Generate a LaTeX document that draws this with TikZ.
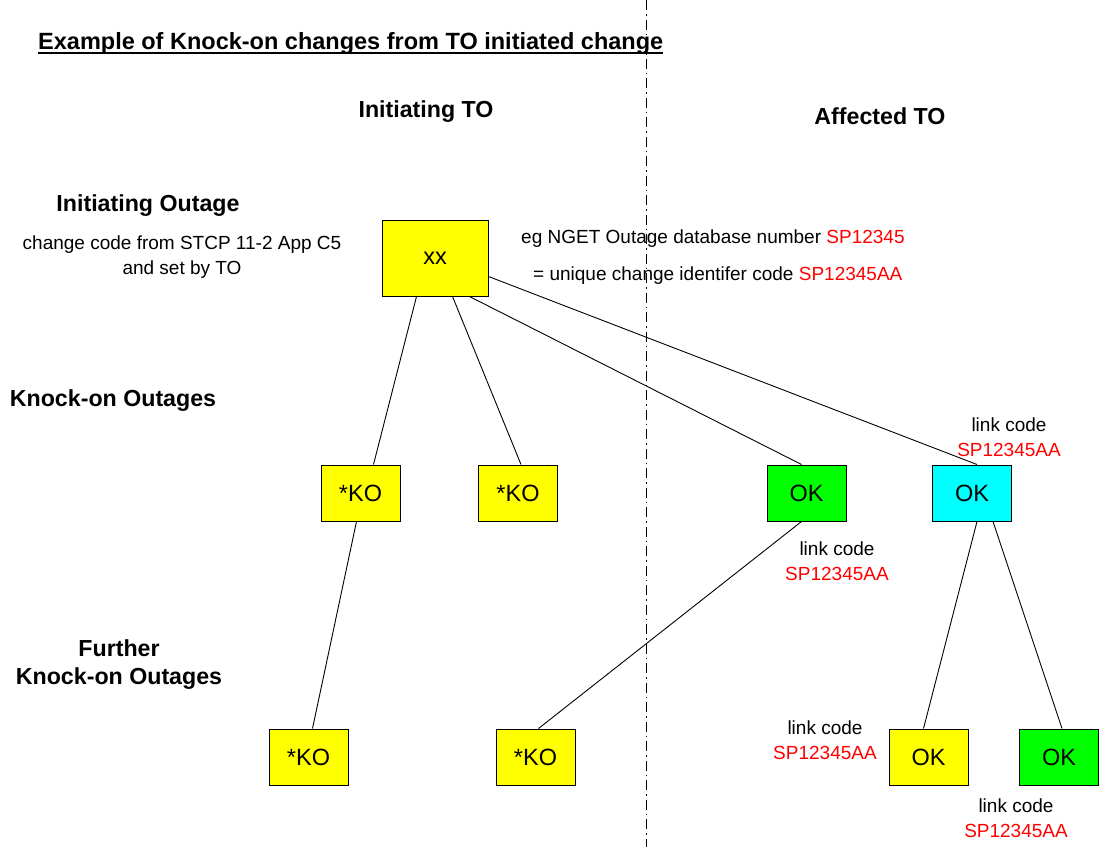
\documentclass[tikz,border=0pt]{standalone}
\usepackage{fontspec}
\setmainfont{Liberation Sans}
\usetikzlibrary{calc}
\definecolor{boxyellow}{RGB}{255,255,0}
\definecolor{boxgreen}{RGB}{0,255,0}
\definecolor{boxcyan}{RGB}{0,255,255}
\definecolor{codered}{RGB}{255,0,0}
\begin{document}
\begin{tikzpicture}[x=1pt,y=-1pt,
  box/.style={draw, line width=1pt, minimum width=79pt, minimum height=56pt, inner sep=0pt, font=\fontsize{23.5}{27}\selectfont},
  hd/.style={font=\bfseries\fontsize{23.2}{28}\selectfont, inner sep=0pt, align=center},
  txt/.style={font=\fontsize{19}{25}\selectfont, inner sep=0pt, align=center},
  conn/.style={line width=0.9pt},
  divider/.style={line width=0.9pt, dash pattern=on 10pt off 4pt on 1.5pt off 4pt}]
\useasboundingbox (0,0) rectangle (1099,847);

% divider
\coordinate (dtop) at (646,0);
\coordinate (dbot) at (646,847);
\draw[divider] (dtop) -- (dbot);

% title
\node[hd, anchor=base west, font=\bfseries\fontsize{23.5}{28}\selectfont] (title) at (38,49) {Example of Knock-on changes from TO initiated change};
\draw[line width=1.6pt] ([yshift=-4pt]title.base west) -- ([yshift=-4pt]title.base east);

% headings
\node[hd] (initTO) at (426,112) {Initiating TO};
\node[hd] (affTO) at (880,116) {Affected TO};
\node[hd] (initOut) at (148,206) {Initiating Outage};
\node[txt] (ccode) at (182,257.5) {change code from STCP 11-2 App C5\\and set by TO};
\node[hd] (koOut) at (113,401) {Knock-on Outages};
\node[hd] (fkoOut) at (119,665) {Further\\Knock-on Outages};

% explanatory texts
\node[txt, anchor=west] (eg) at (521,239) {eg NGET Outage database number \textcolor{codered}{SP12345}};
\node[txt, anchor=west] (uniq) at (533,276) {= unique change identifer code \textcolor{codered}{SP12345AA}};

% boxes
\node[box, fill=boxyellow, minimum width=106pt, minimum height=76pt] (xx) at (435,258) {xx};
\node[box, fill=boxyellow] (ko1) at (360.5,493) {*KO};
\node[box, fill=boxyellow] (ko2) at (518,493) {*KO};
\node[box, fill=boxgreen] (okg) at (806.5,493) {OK};
\node[box, fill=boxcyan] (okc) at (972,493) {OK};
\node[box, fill=boxyellow] (bko1) at (308.5,757) {*KO};
\node[box, fill=boxyellow] (bko2) at (535.5,757) {*KO};
\node[box, fill=boxyellow] (boky) at (928.5,757) {OK};
\node[box, fill=boxgreen] (bokg) at (1059,757) {OK};

% link code labels
\node[txt] (lc1) at (1009,437) {link code\\\textcolor{codered}{SP12345AA}};
\node[txt] (lc2) at (837,561) {link code\\\textcolor{codered}{SP12345AA}};
\node[txt] (lc3) at (825,740.5) {link code\\\textcolor{codered}{SP12345AA}};
\node[txt] (lc4) at (1016,818.5) {link code\\\textcolor{codered}{SP12345AA}};

% connectors
\draw[conn] ([xshift=35pt]xx.south west) -- ([xshift=53pt]ko1.north west);
\draw[conn] ([xshift=71pt]xx.south west) -- ([xshift=43pt]ko2.north west);
\draw[conn] ([xshift=88pt]xx.south west) -- ([xshift=35pt]okg.north west);
\draw[conn] ([yshift=-57pt]xx.north east) -- ([xshift=45pt]okc.north west);
\draw[conn] ([xshift=36pt]ko1.south west) -- ([xshift=44pt]bko1.north west);
\draw[conn] ([xshift=35pt]okg.south west) -- ([xshift=43pt]bko2.north west);
\draw[conn] ([xshift=45pt]okc.south west) -- ([xshift=35pt]boky.north west);
\draw[conn] ([xshift=61pt]okc.south west) -- ([xshift=43pt]bokg.north west);
\end{tikzpicture}
\end{document}
